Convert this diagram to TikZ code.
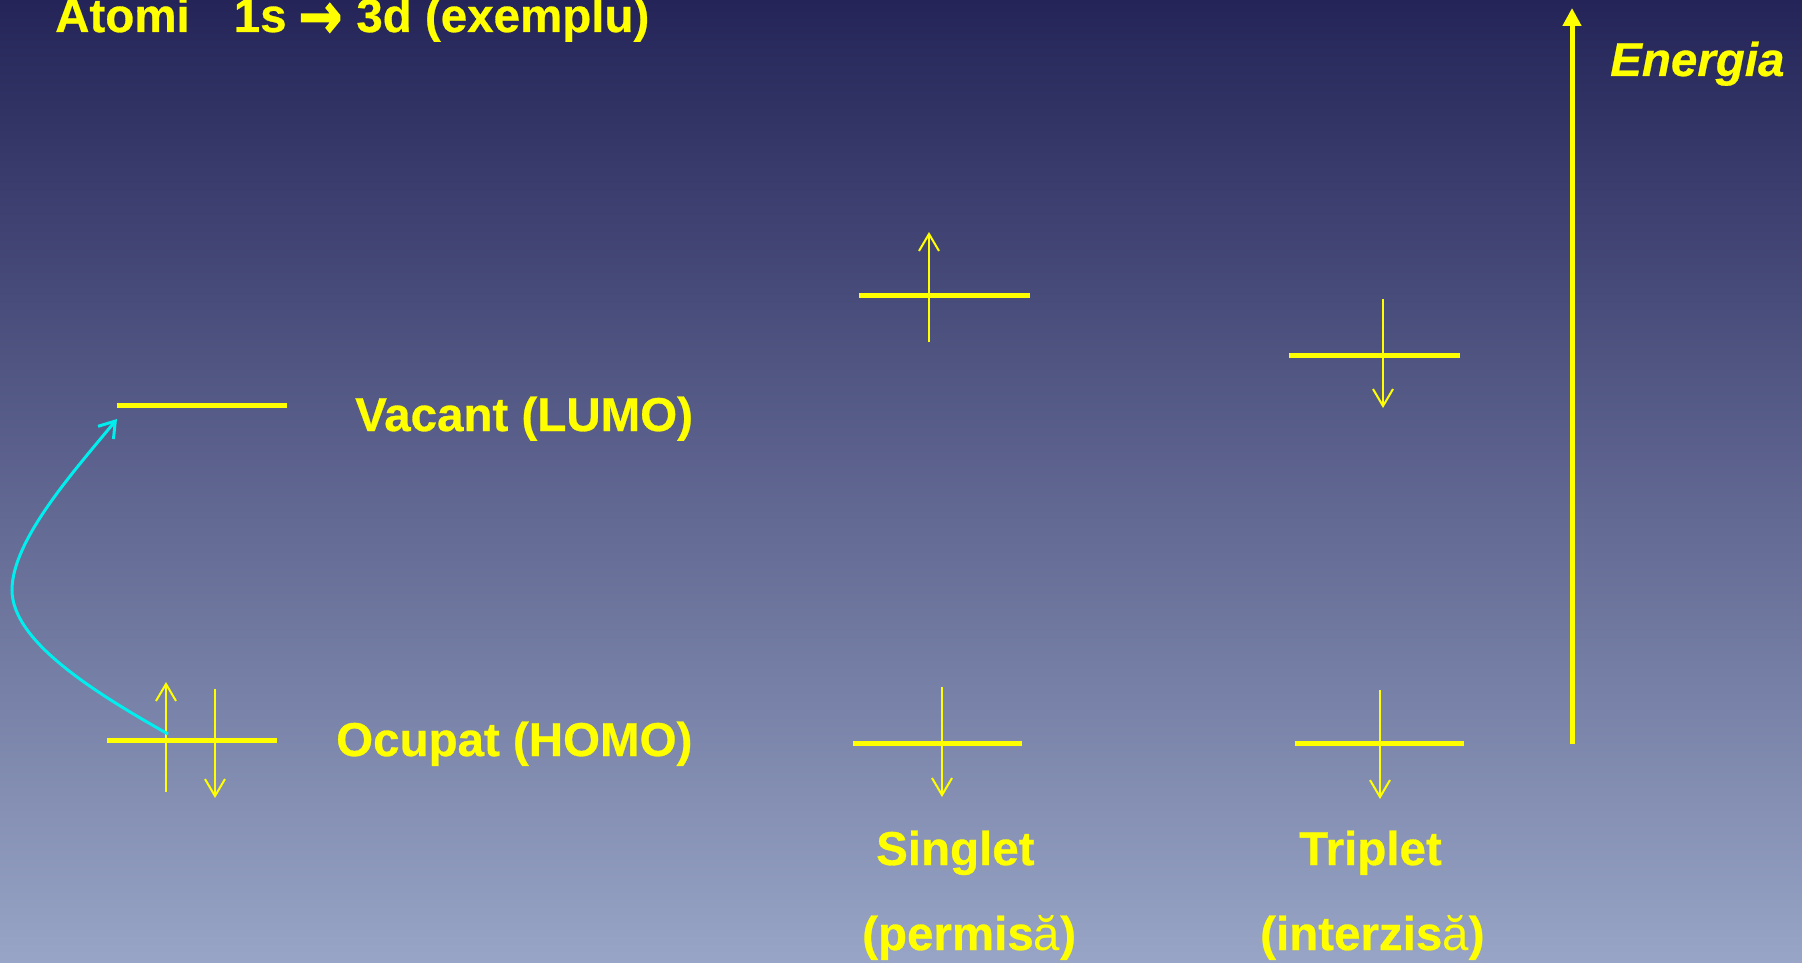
\documentclass[tikz,border=0pt]{standalone}
\usepackage{fontspec}
\usepackage{graphicx}
\setmainfont{Liberation Sans}[BoldFeatures={FakeBold=0.6},BoldItalicFeatures={FakeBold=0.6}]
\newfontfamily\arrowfont{DejaVu Sans}[BoldFeatures={FakeBold=2.5}]
\usetikzlibrary{arrows.meta}
\definecolor{bgtop}{RGB}{36,36,88}
\definecolor{bgbot}{RGB}{152,165,198}
\definecolor{ylw}{RGB}{255,255,0}
\definecolor{cyn}{RGB}{0,238,238}
\begin{document}
\begin{tikzpicture}[x=1pt,y=-1pt,
  level/.style={draw=ylw,line width=5pt},
  spin/.style={draw=ylw,line width=2pt,-{Straight Barb[length=17pt,width=20pt]}},
  lbl/.style={text=ylw,inner sep=0pt,anchor=base west,font=\fontsize{47.5}{56}\selectfont\bfseries},
  clbl/.style={lbl,anchor=base}]
\shade[top color=bgtop,bottom color=bgbot] (0,0) rectangle (1802,963);
\useasboundingbox (0,0) rectangle (1802,963);
% title
\node[lbl] (title) at (55,32) {Atomi\hspace*{44pt}1s\hspace{12pt}{\arrowfont\bfseries\raisebox{-6pt}{\scalebox{1.1}[1.35]{→}}}\hspace{14pt}3d (exemplu)};
% energy axis
\coordinate (eb) at (1572,744);
\coordinate (et) at (1572,8);
\draw[ylw,line width=5pt,-{Triangle[length=18pt,width=18pt]}] (eb) -- (et);
\node[lbl,font=\fontsize{47.5}{56}\selectfont\bfseries\itshape] (energia) at (1610,76) {Energia};
% LUMO / HOMO
\coordinate (lumoL) at (117,405); \coordinate (lumoR) at (287,405);
\draw[level] (lumoL) -- (lumoR);
\coordinate (homoL) at (107,740); \coordinate (homoR) at (277,740);
\draw[level] (homoL) -- (homoR);
\coordinate (hu0) at (166,792); \coordinate (hu1) at (166,682);
\draw[spin] (hu0) -- (hu1);
\coordinate (hd0) at (215,689); \coordinate (hd1) at (215,798);
\draw[spin] (hd0) -- (hd1);
\node[lbl] (vacant) at (355,431) {Vacant (LUMO)};
\node[lbl] (ocupat) at (336,756) {Ocupat (HOMO)};
% excitation curve
\coordinate (cs) at (168,734);
\coordinate (cm) at (12,590);
\coordinate (ce) at (117,419);
\draw[cyn,line width=3pt,-{Straight Barb[length=15pt,width=20pt]}]
  (cs) .. controls (90,690) and (12,640) .. (cm)
       .. controls (12,540) and (75,470) .. (ce);
% singlet
\coordinate (suL) at (859,295); \coordinate (suR) at (1030,295);
\draw[level] (suL) -- (suR);
\coordinate (su0) at (929,342); \coordinate (su1) at (929,232);
\draw[spin] (su0) -- (su1);
\coordinate (slL) at (853,743); \coordinate (slR) at (1022,743);
\draw[level] (slL) -- (slR);
\coordinate (sd0) at (942,687); \coordinate (sd1) at (942,797);
\draw[spin] (sd0) -- (sd1);
% triplet
\coordinate (tuL) at (1289,355); \coordinate (tuR) at (1460,355);
\draw[level] (tuL) -- (tuR);
\coordinate (tu0) at (1383,299); \coordinate (tu1) at (1383,408);
\draw[spin] (tu0) -- (tu1);
\coordinate (tlL) at (1295,743); \coordinate (tlR) at (1464,743);
\draw[level] (tlL) -- (tlR);
\coordinate (td0) at (1380,690); \coordinate (td1) at (1380,799);
\draw[spin] (td0) -- (td1);
% labels
\node[lbl] (singlet) at (876,865) {Singlet};
\node[lbl] (triplet) at (1299,865) {Triplet};
\node[lbl] (permisa) at (862,950) {(permis{\mdseries ă})};
\node[lbl] (interzisa) at (1260,950) {(interzis{\mdseries ă})};
\end{tikzpicture}
\end{document}
